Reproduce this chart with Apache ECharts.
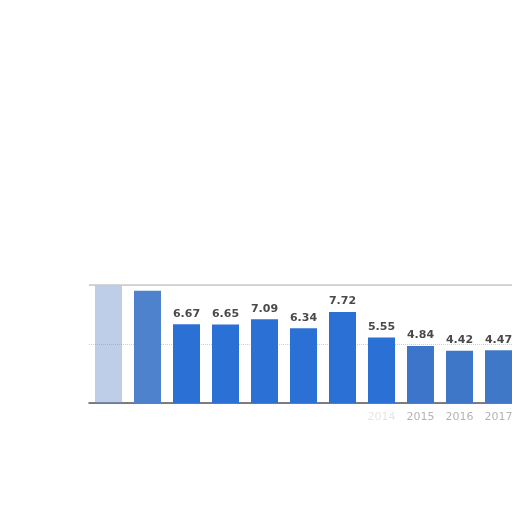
<!DOCTYPE html>
<html>
<head>
<meta charset="utf-8">
<script src="https://cdn.jsdelivr.net/npm/echarts@6/dist/echarts.min.js"></script>
<style>
    html, body { margin: 0; padding: 0; background: #fff; overflow: hidden; }
    #chart { width: 518px; height: 512px; }
</style>
</head>
<body>
<div id="chart"></div>
<script>
// years on the x axis
const years = ['2007', '2008', '2009', '2010', '2011', '2012', '2013', '2014', '2015', '2016', '2017'];
// bar values (first two are smudged in the picture, estimated)
const values = [9.98, 9.52, 6.67, 6.65, 7.09, 6.34, 7.72, 5.55, 4.84, 4.42, 4.47];
// only these year labels can be read
const shownYears = ['2014', '2015', '2016', '2017'];
// bars whose value labels are not readable
const hiddenLabels = ['2007', '2008'];

const faded = {
    '2007': 'rgba(110,145,205,0.45)',
    '2008': '#4f82cc',
    '2015': '#3c75c9',
    '2016': '#3f77c8',
    '2017': '#4078c8'
};

let barData = values.map(function(v, i) {
    let y = years[i];
    return {
        value: v,
        itemStyle: { color: faded[y] || '#2b70d4' },
        label: { show: hiddenLabels.indexOf(y) < 0 }
    };
});

let option = {
    animation: false,
    grid: {
        left: 89,
        right: 0,
        top: 285,
        bottom: 109
    },
    xAxis: {
        type: 'category',
        data: years,
        axisTick: { show: false },
        axisLine: { lineStyle: { color: '#555', width: 1.5 } },
        axisLabel: {
            margin: 9,
            fontSize: 11,
            fontFamily: 'DejaVu Sans',
            color: function(value) {
                if (value === '2014') return 'rgba(190,190,190,0.4)';
                return shownYears.indexOf(value) >= 0 ? '#b4b4b4' : 'rgba(0,0,0,0)';
            }
        }
    },
    yAxis: {
        type: 'value',
        min: 0,
        max: 10,
        interval: 5,
        axisLabel: { show: false },
        axisLine: { show: false },
        axisTick: { show: false },
        splitLine: { lineStyle: { color: '#cfcfcf', type: 'dotted' } }
    },
    series: [
        {
            type: 'bar',
            barWidth: 27,
            data: barData,
            label: {
                position: 'top',
                distance: 5,
                fontSize: 11,
                fontWeight: 'bold',
                fontFamily: 'DejaVu Sans',
                color: '#4a4a4a'
            },
            markLine: {
                silent: true,
                symbol: 'none',
                label: { show: false },
                lineStyle: { color: '#c8c8c8', type: 'solid', width: 1.5 },
                data: [{ yAxis: 10 }]
            }
        }
    ]
};

let chart = echarts.init(document.getElementById('chart'));
chart.setOption(option);
</script>
</body>
</html>
